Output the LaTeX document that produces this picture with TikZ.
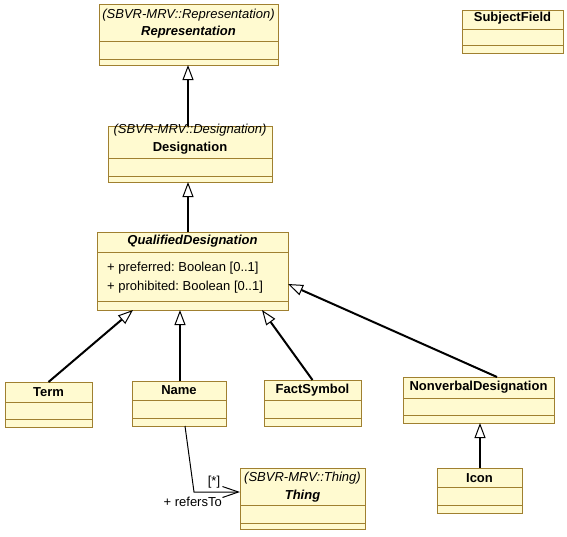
\documentclass[tikz,border=0pt]{standalone}
\usepackage{fontspec}
\setmainfont{Liberation Sans}
\usetikzlibrary{arrows.meta,calc}
\definecolor{clsfill}{RGB}{255,250,208}
\definecolor{clsdraw}{RGB}{160,128,48}
\newcommand\umlclass[7]{%
  \node[cls, minimum width={#4-#2}, minimum height={#5-#3}] (#1) at (#2,#3) {};
  \draw[clsdraw, line width=1pt] (#2,#6) -- (#4,#6) (#2,#7) -- (#4,#7);
}
\frenchspacing
\begin{document}
\frenchspacing
\begin{tikzpicture}[x=1pt,y=-1pt,
  cls/.style={draw=clsdraw, fill=clsfill, line width=1pt, inner sep=0pt, outer sep=0pt, anchor=north west},
  txt/.style={font=\fontsize{13}{15}\selectfont\frenchspacing, inner sep=0pt},
  stereo/.style={txt, font=\fontsize{13}{15}\selectfont\itshape},
  clsname/.style={txt, font=\fontsize{13}{15}\selectfont\bfseries},
  absname/.style={txt, font=\fontsize{13}{15}\selectfont\bfseries\itshape},
  gen/.style={line width=2pt, -{Triangle[length=15pt,width=11pt,fill=white,line width=1pt]}},
  assoc/.style={line width=1pt, -{Straight Barb[length=16pt,width=11pt,line width=1pt]}}
]
\fill[white] (0,0) rectangle (567,536);
\useasboundingbox (0,0) rectangle (567,536);

% classes
\umlclass{rep}{99}{4}{278}{65}{41}{59}
\umlclass{subj}{462}{10}{563}{53}{29}{45}
\umlclass{des}{108}{126}{272}{182}{158}{176}
\umlclass{qd}{97}{232}{288}{310}{252}{301}
\umlclass{term}{5}{382}{92}{427}{402}{419}
\umlclass{name}{132}{381}{226}{426}{400}{418}
\umlclass{fact}{264}{380}{361}{426}{400}{418}
\umlclass{nvd}{403}{377}{554}{423}{398}{415}
\umlclass{icon}{437}{468}{522}{513}{487}{505}
\umlclass{thing}{240}{468}{365}{529}{505}{523}

% texts
\node[stereo] (repst) at (188.5,15.5) {(SBVR-MRV::Representation)};
\node[absname] (repnm) at (188.5,32) {Representation};
\node[clsname] (subjnm) at (512.5,18.5) {SubjectField};
\node[stereo] (desst) at (190,130.5) {(SBVR-MRV::Designation)};
\node[clsname] (desnm) at (190,148.5) {Designation};
\node[absname] (qdnm) at (192.5,241.5) {QualifiedDesignation};
\node[txt, anchor=west] (qda1) at (107,268.5) {+ preferred: Boolean [0..1]};
\node[txt, anchor=west] (qda2) at (107,287) {+ prohibited: Boolean [0..1]};
\node[clsname] (termnm) at (48.5,392) {Term};
\node[clsname] (namenm) at (179,390.5) {Name};
\node[clsname] (factnm) at (312.5,390) {FactSymbol};
\node[clsname] (nvdnm) at (478.5,387.5) {NonverbalDesignation};
\node[clsname] (iconnm) at (479.5,478) {Icon};
\node[stereo] (thingst) at (302.5,478.5) {(SBVR-MRV::Thing)};
\node[absname] (thingnm) at (302.5,496.5) {Thing};

% connection points
\coordinate (desin)  at ($(rep.south west)+(89,0)$);
\coordinate (desout) at ($(des.north west)+(80,0)$);
\coordinate (qdin)   at ($(des.south west)+(80,0)$);
\coordinate (qdout)  at ($(qd.north west)+(91,0)$);
\coordinate (termin) at ($(qd.south west)+(36,0)$);
\coordinate (namein) at ($(qd.south west)+(83,0)$);
\coordinate (nameup) at ($(name.north west)+(48,0)$);
\coordinate (factin) at ($(qd.south west)+(165,0)$);
\coordinate (nvdin)  at ($(qd.north east)+(0,52)$);
\coordinate (nvdup)  at ($(nvd.north west)+(94,0)$);
\coordinate (iconin) at ($(nvd.south west)+(77,0)$);
\coordinate (iconup) at ($(icon.north west)+(43,0)$);

% generalizations
\draw[gen] (desout) -- (desin);
\draw[gen] (qdout) -- (qdin);
\draw[gen] (term.north) -- (termin);
\draw[gen] (nameup) -- (namein);
\draw[gen] (fact.north) -- (factin);
\draw[gen] (nvdup) -- (nvdin);
\draw[gen] (iconup) -- (iconin);

% association
\coordinate (nameout) at ($(name.south west)+(53,0)$);
\coordinate (bend) at (194,492);
\coordinate (thingin) at ($(thing.north west)+(0,24)$);
\draw[assoc] (nameout) -- (bend) -- (thingin);
\node[txt] (mult) at (214,482) {[*]};
\node[txt, anchor=east] (role) at (222,502) {+ refersTo};
\end{tikzpicture}
\end{document}
